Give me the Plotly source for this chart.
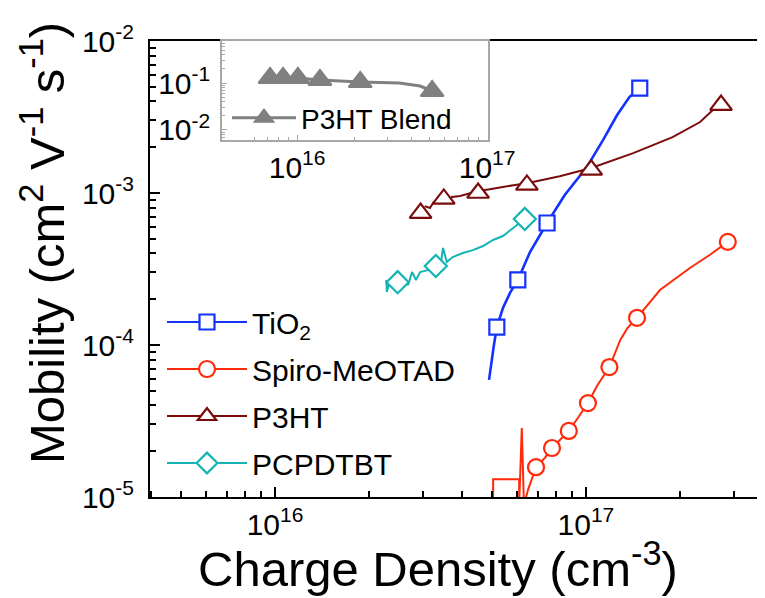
import plotly.graph_objects as go

# ---------------- data ----------------
tio2_x = [4.88e16, 4.95e16, 5.06e16, 5.17e16, 5.41e16, 5.70e16, 6.04e16, 6.61e16, 7.5e16,
          8.55e16, 1.007e17, 1.135e17, 1.26e17, 1.38e17, 1.49e17]
tio2_y = [5.89e-5, 7.4e-5, 1.0e-4, 1.31e-4, 1.75e-4, 2.2e-4, 2.68e-4, 4.09e-4, 6.35e-4,
          9.7e-4, 1.48e-3, 2.23e-3, 3.26e-3, 4.28e-3, 4.9e-3]
tio2_mx = [5.17e16, 6.04e16, 7.5e16, 1.49e17]
tio2_my = [1.31e-4, 2.68e-4, 6.35e-4, 4.9e-3]

spiro_x = [5.03e16, 5.03e16, 6.1e16, 6.1e16, 6.22e16, 6.32e16, 6.51e16, 6.91e16, 7.38e16, 7.78e16,
           8.25e16, 8.81e16, 9.42e16, 1.015e17, 1.09e17, 1.19e17, 1.29e17, 1.36e17, 1.46e17,
           1.73e17, 2.16e17, 2.50e17, 2.86e17]
spiro_y = [8.2e-6, 1.31e-5, 1.31e-5, 8.85e-6, 2.84e-5, 8.85e-6, 1.11e-5, 1.57e-5, 1.81e-5, 2.10e-5,
           2.37e-5, 2.72e-5, 3.31e-5, 4.15e-5, 5.45e-5, 7.16e-5, 1.08e-4, 1.29e-4, 1.51e-4,
           2.30e-4, 3.21e-4, 3.91e-4, 4.77e-4]
spiro_mx = [6.91e16, 7.78e16, 8.81e16, 1.015e17, 1.19e17, 1.46e17, 2.86e17]
spiro_my = [1.57e-5, 2.10e-5, 2.72e-5, 4.15e-5, 7.16e-5, 1.51e-4, 4.77e-4]

p3ht_x = [3.03e16, 3.15e16, 3.24e16, 3.40e16, 3.55e16, 3.71e16, 3.94e16, 4.18e16, 4.5e16, 4.91e16,
          5.28e16, 5.92e16, 6.46e16, 8.24e16, 1.04e17, 1.42e17, 1.90e17, 2.33e17, 2.56e17, 2.72e17]
p3ht_y = [8.2e-4, 7.96e-4, 8.73e-4, 8.85e-4, 8.59e-4, 9.42e-4, 9.55e-4, 9.84e-4, 1.03e-3, 1.06e-3,
          1.09e-3, 1.13e-3, 1.16e-3, 1.29e-3, 1.46e-3, 1.83e-3, 2.33e-3, 2.93e-3, 3.52e-3, 3.86e-3]
p3ht_mx = [2.94e16, 3.49e16, 4.5e16, 6.46e16, 1.04e17, 2.72e17]
p3ht_my = [7.38e-4, 9.14e-4, 1.0e-3, 1.13e-3, 1.42e-3, 3.79e-3]

pcp_x = [2.28e16, 2.29e16, 2.33e16, 2.38e16, 2.48e16, 2.60e16, 2.68e16, 2.76e16, 2.84e16, 2.93e16,
         3.10e16, 3.29e16, 3.42e16, 3.47e16, 3.57e16, 3.73e16, 4.02e16, 4.33e16, 4.67e16, 5.03e16,
         5.41e16, 5.83e16, 6.36e16]
pcp_y = [2.68e-4, 2.23e-4, 2.56e-4, 2.41e-4, 2.59e-4, 2.72e-4, 2.48e-4, 3.02e-4, 2.68e-4, 3.02e-4,
         3.11e-4, 3.31e-4, 3.52e-4, 4.35e-4, 3.52e-4, 3.79e-4, 4.03e-4, 4.21e-4, 4.48e-4, 4.91e-4,
         5.21e-4, 5.89e-4, 6.75e-4]
pcp_mx = [2.48e16, 3.29e16, 6.36e16]
pcp_my = [2.59e-4, 3.31e-4, 6.75e-4]

blend_x = [7.21e15, 8.44e15, 1.01e16, 1.32e16, 2.15e16, 3.45e16, 4.44e16, 5.14e16]
blend_y = [0.128, 0.128, 0.128, 0.116, 0.105, 0.100, 0.0863, 0.0676]
blend_mx = [7.21e15, 8.44e15, 1.01e16, 1.32e16, 2.15e16, 5.14e16]
blend_my = [0.128, 0.128, 0.128, 0.116, 0.105, 0.0676]

x_tickvals = [1e16, 1e17]
x_ticktext = ["10<sup>16</sup>", "10<sup>17</sup>"]
y_tickvals = [1e-5, 1e-4, 1e-3, 1e-2]
y_ticktext = ["10<sup>-5</sup>", "10<sup>-4</sup>", "10<sup>-3</sup>", "10<sup>-2</sup>"]
inset_y_tickvals = [1e-2, 1e-1]
inset_y_ticktext = ["10<sup>-2</sup>", "10<sup>-1</sup>"]

series_names = ["TiO<sub>2</sub>", "Spiro-MeOTAD", "P3HT", "PCPDTBT"]
blend_name = "P3HT Blend"

# ---------------- style ----------------
FONT = "Liberation Sans, Arial, sans-serif"
C_BLUE = "#1432ff"
C_RED = "#ff2a0a"
C_BROWN = "#7a0c0c"
C_TEAL = "#14b4b4"
C_GRAY = "#808080"

fig = go.Figure()

def add_series(lx, ly, mx, my, name, color, symbol, size, lw, group):
    fig.add_trace(go.Scatter(x=lx, y=ly, mode="lines", line=dict(color=color, width=lw),
                             showlegend=False, hoverinfo="skip"))
    fig.add_trace(go.Scatter(x=mx, y=my, mode="markers", name=name,
                             marker=dict(symbol=symbol, size=size, color="white",
                                         line=dict(color=color, width=2.2)),
                             showlegend=False))
    # legend proxy
    fig.add_trace(go.Scatter(x=[None], y=[None], mode="lines+markers", name=name,
                             legendgroup=group,
                             line=dict(color=color, width=2),
                             marker=dict(symbol=symbol, size=size, color="white",
                                         line=dict(color=color, width=2.2))))

add_series(tio2_x, tio2_y, tio2_mx, tio2_my, series_names[0], C_BLUE, "square", 15, 2.6, "g1")
add_series(spiro_x, spiro_y, spiro_mx, spiro_my, series_names[1], C_RED, "circle", 16, 2, "g2")
add_series(p3ht_x, p3ht_y, p3ht_mx, p3ht_my, series_names[2], C_BROWN, "triangle-up", 19, 2, "g3")
add_series(pcp_x, pcp_y, pcp_mx, pcp_my, series_names[3], C_TEAL, "diamond", 17, 2, "g4")

# inset
fig.add_trace(go.Scatter(x=blend_x, y=blend_y, mode="lines", xaxis="x2", yaxis="y2",
                         line=dict(color=C_GRAY, width=3), showlegend=False))
fig.add_trace(go.Scatter(x=blend_mx, y=blend_my, mode="markers", xaxis="x2", yaxis="y2",
                         marker=dict(symbol="triangle-up", size=20, color=C_GRAY,
                                     line=dict(color=C_GRAY, width=2)), showlegend=False))
fig.add_trace(go.Scatter(x=[None], y=[None], mode="lines+markers", xaxis="x2", yaxis="y2",
                         name=blend_name, legend="legend2",
                         line=dict(color=C_GRAY, width=3),
                         marker=dict(symbol="triangle-up", size=22, color=C_GRAY,
                                     line=dict(color=C_GRAY, width=2))))

# window geometry (the page body adds an 8px offset)
OFF = 8
WIN_W, WIN_H = 765, 598
PL, PR, PT, PB = 150, 765, 41, 497          # plot area in window pixels
W, H = WIN_W - OFF, WIN_H - OFF
L, T = PL - OFF, PT - OFF
R = W - (PR - OFF)
B = H - (PB - OFF)
pw, ph = PR - PL, PB - PT

def px(xw):
    return (xw - PL) / pw

def py(yw):
    return (PB - yw) / ph

main_minor_x = [4e15, 5e15, 6e15, 7e15, 8e15, 9e15, 2e16, 3e16, 4e16, 5e16, 6e16, 7e16, 8e16, 9e16, 2e17, 3e17]
main_minor_y = [2e-5, 3e-5, 4e-5, 5e-5, 6e-5, 7e-5, 8e-5, 9e-5,
                2e-4, 3e-4, 4e-4, 5e-4, 6e-4, 7e-4, 8e-4, 9e-4,
                2e-3, 3e-3, 4e-3, 5e-3, 6e-3, 7e-3, 8e-3, 9e-3]
inset_minor_x = [6e15, 7e15, 8e15, 9e15, 2e16, 3e16, 4e16, 5e16, 6e16, 7e16, 8e16, 9e16]
inset_minor_y = [7e-3, 8e-3, 9e-3, 2e-2, 3e-2, 4e-2, 5e-2, 6e-2, 7e-2, 8e-2, 9e-2,
                 2e-1, 3e-1, 4e-1, 5e-1, 6e-1, 7e-1]

TICK_SIZE = 30

fig.update_layout(
    width=W, height=H,
    margin=dict(l=L, r=R, t=T, b=B, autoexpand=False),
    paper_bgcolor="white", plot_bgcolor="white",
    font=dict(family=FONT, size=28, color="black"),
    xaxis=dict(type="log", range=[15.598, 17.576], showgrid=False, zeroline=False,
               showline=True, linecolor="black", linewidth=2, mirror=True,
               ticks="inside", ticklen=10, tickwidth=2, tickcolor="black",
               tickmode="array", tickvals=x_tickvals, ticktext=x_ticktext,
               tickfont=dict(size=TICK_SIZE), ticklabelstandoff=0,
               minor=dict(ticks="inside", ticklen=6, tickwidth=1.5, tickcolor="black",
                          tickmode="array", tickvals=main_minor_x, showgrid=False)),
    yaxis=dict(type="log", range=[-5, -2], showgrid=False, zeroline=False,
               showline=True, linecolor="black", linewidth=2, mirror=False,
               ticks="inside", ticklen=10, tickwidth=2, tickcolor="black",
               tickmode="array", tickvals=y_tickvals, ticktext=y_ticktext,
               tickfont=dict(size=TICK_SIZE), ticklabelstandoff=8,
               minor=dict(ticks="inside", ticklen=6, tickwidth=1.5, tickcolor="black",
                          tickmode="array", tickvals=main_minor_y, showgrid=False)),
    xaxis2=dict(type="log", range=[15.605, 17.005], domain=[px(222), px(488)], anchor="y2",
                showgrid=False, zeroline=False, showline=True, linecolor="#a8a8a8",
                linewidth=1.5, mirror=True, ticks="inside", ticklen=5, tickwidth=1,
                tickcolor="#a8a8a8", tickmode="array", tickvals=x_tickvals, ticktext=x_ticktext,
                tickfont=dict(size=TICK_SIZE),
                minor=dict(ticks="inside", ticklen=3, tickwidth=1, tickcolor="#a8a8a8",
                           tickmode="array", tickvals=inset_minor_x, showgrid=False)),
    yaxis2=dict(type="log", range=[-2.213, -0.106], domain=[py(140), 1.0], anchor="x2",
                showgrid=False, zeroline=False, showline=True, linecolor="#a8a8a8",
                linewidth=1.5, mirror=True, ticks="inside", ticklen=5, tickwidth=1,
                tickcolor="#a8a8a8", tickmode="array", tickvals=inset_y_tickvals,
                ticktext=inset_y_ticktext, tickfont=dict(size=TICK_SIZE), ticklabelstandoff=4,
                minor=dict(ticks="inside", ticklen=3, tickwidth=1, tickcolor="#a8a8a8",
                           tickmode="array", tickvals=inset_minor_y, showgrid=False)),
    legend=dict(x=px(162), y=py(296), xanchor="left", yanchor="top",
                bgcolor="rgba(0,0,0,0)", font=dict(size=30), itemwidth=80,
                tracegroupgap=5, itemsizing="trace"),
    legend2=dict(x=px(227), y=py(93), xanchor="left", yanchor="top",
                 bgcolor="rgba(0,0,0,0)", font=dict(size=28), itemwidth=64),
    annotations=[
        dict(text="Charge Density (cm<sup>-3</sup>)", xref="paper", yref="paper",
             x=px(438), y=py(565), xanchor="center", yanchor="middle", showarrow=False,
             font=dict(size=49, family=FONT)),
        dict(text="Mobility (cm<sup>2</sup> V<sup>-1</sup> s<sup>-1</sup>)", xref="paper",
             yref="paper", x=px(43), y=py(243), xanchor="center", yanchor="middle",
             textangle=-90, showarrow=False, font=dict(size=49, family=FONT)),
    ],
)

fig.write_html("out.html")
